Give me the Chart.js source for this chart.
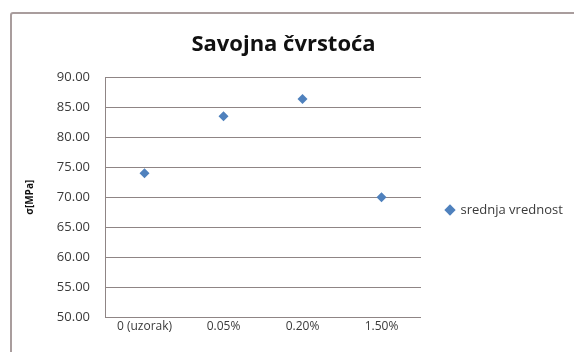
<!DOCTYPE html>
<html>
<head>
<meta charset="utf-8">
<script src="https://cdn.jsdelivr.net/npm/chart.js@4/dist/chart.umd.min.js"></script>
<style>
  html, body { margin: 0; padding: 0; background: #ffffff; }
  #wrap { position: relative; width: 574px; height: 352px; overflow: hidden; }
  #frame {
    position: absolute; left: 10px; top: 12px; width: 600px; height: 400px;
    border: 2px solid #a99d9d; border-radius: 3px; box-sizing: border-box;
  }
  #chart { position: absolute; left: 0; top: 0; }
</style>
</head>
<body>
<div id="wrap">
  <div id="frame"></div>
  <canvas id="chart" width="574" height="352"></canvas>
</div>
<script>
// Savojna čvrstoća – mean values per additive share
const categories = ['0 (uzorak)', '0.05%', '0.20%', '1.50%'];
const srednjaVrednost = [74.0, 83.5, 86.4, 70.0];
const seriesLabel = 'srednja vrednost';
const yMin = 50, yMax = 90, yStep = 5;

const gridColor = '#8f8585';
const textColor = '#3a3a3a';
const markerColor = '#4f81bd';

// fixed width for the legend column; legend entry sits a bit low,
// title is centred over the framed area rather than the full canvas
const layoutTweaks = {
  id: 'layoutTweaks',
  beforeInit(chart) {
    const legend = chart.legend;
    if (!legend) return;
    const origFit = legend.fit;
    legend.fit = function () {
      origFit.call(this);
      if (this.isHorizontal && !this.isHorizontal()) this.width = 150;
    };
  },
  afterLayout(chart) {
    const lg = chart.legend;
    if (lg) {
      lg.top += 34; lg.bottom += 34;
      if (typeof lg.adjustHitBoxes === 'function') lg.adjustHitBoxes();
    }
    const tb = chart.titleBlock;
    if (tb) { tb.left -= 12; tb.right -= 12; }
  }
};

new Chart(document.getElementById('chart'), {
  type: 'line',
  data: {
    labels: categories,
    datasets: [{
      label: seriesLabel,
      data: srednjaVrednost,
      showLine: false,
      pointStyle: 'rectRot',
      pointRadius: 5,
      pointHoverRadius: 5,
      backgroundColor: markerColor,
      borderColor: markerColor,
      borderWidth: 0
    }]
  },
  options: {
    responsive: false,
    animation: false,
    devicePixelRatio: 1,
    layout: { padding: { left: 20, right: 3, top: 0, bottom: 0 } },
    plugins: {
      tooltip: { enabled: false },
      title: {
        display: true,
        text: 'Savojna čvrstoća',
        color: '#111111',
        font: { family: 'Open Sans', size: 22, weight: 'bold' },
        padding: { top: 32, bottom: 19 }
      },
      legend: {
        display: true,
        position: 'right',
        align: 'center',
        labels: {
          usePointStyle: true,
          pointStyle: 'rectRot',
          boxWidth: 8,
          boxHeight: 8,
          padding: 25,
          color: textColor,
          font: { family: 'Open Sans', size: 13 }
        }
      }
    },
    scales: {
      x: {
        type: 'category',
        offset: true,
        grid: { display: false, drawTicks: false },
        border: { display: false },
        ticks: {
          color: textColor,
          font: { family: 'Open Sans', size: 12 },
          padding: 2,
          maxRotation: 0
        },
        afterFit(scale) { scale.height = 35; }
      },
      y: {
        min: yMin,
        max: yMax,
        grid: { color: gridColor, lineWidth: 1, drawTicks: false },
        border: { display: true, color: gridColor, width: 1 },
        ticks: {
          stepSize: yStep,
          color: textColor,
          font: { family: 'Open Sans', size: 13 },
          padding: 15,
          callback: (v) => Number(v).toFixed(2)
        },
        title: {
          display: true,
          text: 'σ[MPa]',
          color: '#111111',
          font: { family: 'Open Sans', size: 10, weight: 'bold' },
          padding: { top: 4, bottom: 0 }
        },
        afterFit(scale) { scale.width = 85; }
      }
    }
  },
  plugins: [layoutTweaks]
});
</script>
</body>
</html>
